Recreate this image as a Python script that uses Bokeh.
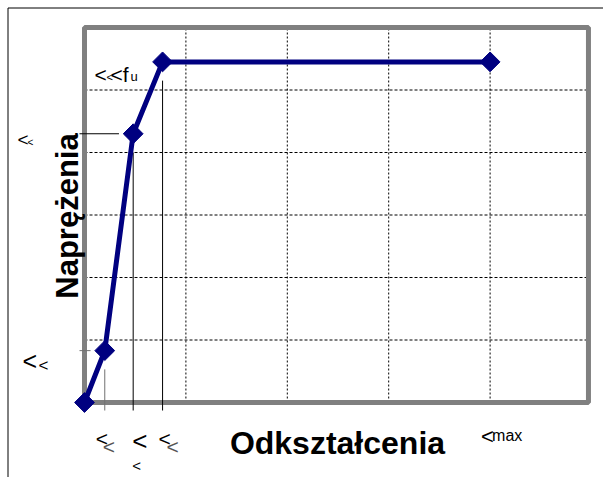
from bokeh.plotting import figure
from bokeh.models import Range1d
from bokeh.core.properties import value
from bokeh.embed import file_html
from bokeh.resources import INLINE

# ---- data ----
strain = [0.0, 0.2, 0.48, 0.77, 4.0]
stress = [0.0, 0.83, 4.3, 5.45, 5.45]
x_grid = [1, 2, 3, 4]
y_grid = [1, 2, 3, 4, 5]
X_MAX = 4.97
Y_MAX = 6
x_title = "Odkształcenia"
y_title = "Naprężenia"
sym = "<"
fu_text = "<f"
fu_sub = "u"
max_sub = "max"

# ---- layout ----
W, H = 603, 477
PX_X = 101.4
PX_Y = 62.5
LEFT = 84
TOP = 27
x_start = -LEFT / PX_X
x_end = (W - LEFT) / PX_X
y_end = Y_MAX + TOP / PX_Y
y_start = -(H - TOP - Y_MAX * PX_Y) / PX_Y

p = figure(width=W, height=H, x_range=Range1d(x_start, x_end),
           y_range=Range1d(y_start, y_end), output_backend="svg",
           toolbar_location=None, x_axis_type=None, y_axis_type=None,
           min_border=0, background_fill_color="white",
           border_fill_color="white")
p.outline_line_color = None

FONT = value("Liberation Sans")
NAVY = "#000080"
GREY = "#808080"

# outer border (top and left visible)
bx = x_start + 7.5 / PX_X
by = y_end - 7.5 / PX_Y
p.line(x=[bx, bx, x_end], y=[y_start, by, by], line_color="black", line_width=1)

# dashed grid
p.segment(x0=x_grid, y0=[0] * len(x_grid), x1=x_grid, y1=[Y_MAX] * len(x_grid),
          line_color="black", line_width=1, line_dash="2 2")
p.segment(x0=[0] * len(y_grid), y0=y_grid, x1=[X_MAX] * len(y_grid), y1=y_grid,
          line_color="black", line_width=1, line_dash="3 2")

# plot-area frame
p.quad(left=[0], right=[X_MAX], bottom=[0], top=[Y_MAX], fill_color=None,
       line_color=GREY, line_width=5)

# drop lines
tick = 8 / PX_Y
gap_y = 0.3
gap_x = 0.14
drop_cols = [None, "#707070", "black", "black", None]
for i in (1, 2, 3):
    p.segment(x0=[strain[i]], y0=[stress[i] - gap_y], x1=[strain[i]], y1=[-tick],
              line_color=drop_cols[i], line_width=1)
for i in (1, 2):
    p.segment(x0=[-5 / PX_X], y0=[stress[i]], x1=[strain[i] - gap_x], y1=[stress[i]],
              line_color=drop_cols[i], line_width=1)

# curve
p.line(x=strain, y=stress, line_color=NAVY, line_width=5)
p.scatter(x=strain, y=stress, marker="square", angle=0.785398, size=14,
          fill_color=NAVY, line_color=NAVY)


def txt(x, y, s, size, dx, dy, color="black", bold=False, angle=0.0, align="left"):
    p.text(x=[x], y=[y], text=[s], x_offset=dx, y_offset=dy, text_font=FONT,
           text_font_size=f"{size}px", text_color=color,
           text_baseline="alphabetic", text_align=align, angle=angle,
           text_font_style="bold" if bold else "normal")


# label at ultimate point
txt(strain[3], stress[3], sym, 21, -68, 13)
txt(strain[3], stress[3], sym, 11, -56, 15)
txt(strain[3], stress[3], fu_text, 21, -52, 13)
txt(strain[3], stress[3], fu_sub, 13, -32, 15)

# left labels
txt(0, stress[2], sym, 19, -67, 6)
txt(0, stress[2], sym, 10, -57, 9)
txt(0, stress[1], sym, 25, -62, 10)
txt(0, stress[1], sym, 17, -46, 15)

# bottom labels
txt(strain[1], 0, sym, 21, -9, 36)
txt(strain[1], 0, sym, 21, -2, 44, color="#555555")
txt(strain[2], 0, sym, 26, -1, 38)
txt(strain[2], 0, sym, 15, -1, 63)
txt(strain[3], 0, sym, 21, -4, 36)
txt(strain[3], 0, sym, 21, 4, 44, color="#555555")
txt(strain[4], 0, sym, 22, -9, 34)
txt(strain[4], 0, max_sub, 16, 2, 33)

# titles
txt(X_MAX / 2, 0, x_title, 32, 1, 40, bold=True, align="center")
txt(0, Y_MAX / 2, y_title, 31, -17, 1, bold=True, angle=1.5707963, align="center")

open("out.html", "w").write(file_html(p, INLINE))
